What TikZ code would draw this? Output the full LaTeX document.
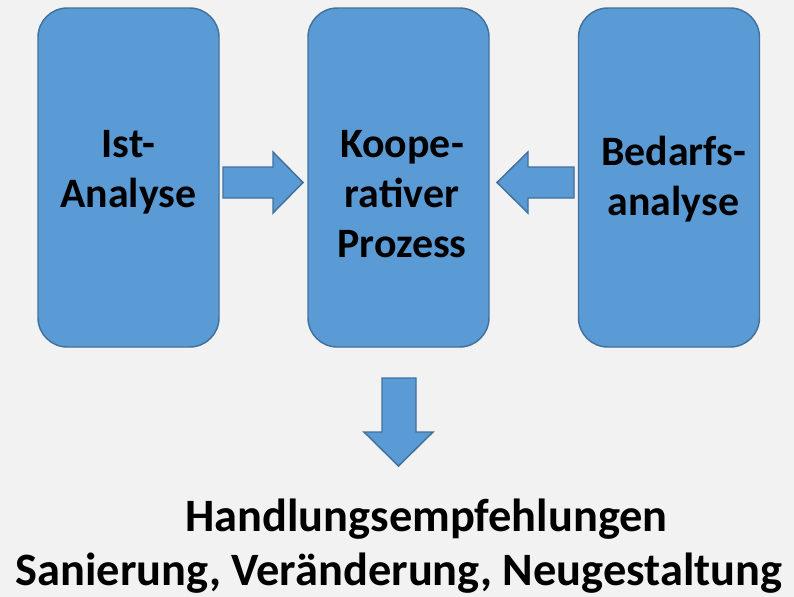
\documentclass[tikz,border=0pt]{standalone}
\usepackage{fontspec}
\setmainfont{Carlito}
\definecolor{bg}{HTML}{F2F2F2}
\definecolor{boxfill}{HTML}{5B9BD5}
\definecolor{boxline}{HTML}{41719C}
\tikzset{
  box/.style={draw=boxline, fill=boxfill, line width=1.1pt, rounded corners=22pt,
    minimum width=135.75pt, minimum height=254.25pt, inner sep=0pt},
  blockarrow/.style={draw=boxline, fill=boxfill, line width=1.1pt, line join=miter},
  lbl/.style={anchor=base, inner sep=0pt, font=\fontsize{31.4}{38}\selectfont\bfseries},
  bottomlbl/.style={anchor=base, inner sep=0pt, font=\fontsize{34.8}{42}\selectfont\bfseries}
}
\begin{document}
\begin{tikzpicture}[x=0.75pt,y=-0.75pt]
\useasboundingbox (0,0) rectangle (794,597);
\fill[bg] (0,0) rectangle (794,597);
% boxes
\node[box] (ist) at (128.5,177.5) {};
\node[box] (koop) at (398.5,177.5) {};
\node[box] (bed) at (669,177.5) {};
% box texts
\node[lbl] (ist1) at (128.5,157) {Ist-};
\node[lbl] (ist2) at (128.5,207) {Analyse};
\node[lbl] (koop1) at (402,157) {Koope-};
\node[lbl] (koop2) at (402,207) {rativer};
\node[lbl] (koop3) at (402,257) {Prozess};
\node[lbl] (bed1) at (673.5,165) {Bedarfs-};
\node[lbl] (bed2) at (673.5,215) {analyse};
% block arrows
\draw[blockarrow] (223,167) -- (273,167) -- (273,152) -- (303,182.5) -- (273,213) -- (273,198) -- (223,198) -- cycle;
\draw[blockarrow] (574,167) -- (528,167) -- (528,152) -- (497,182.5) -- (528,213) -- (528,198) -- (574,198) -- cycle;
\draw[blockarrow] (382,378) -- (416,378) -- (416,432) -- (433,432) -- (398.5,466) -- (364,432) -- (382,432) -- cycle;
% bottom texts
\node[bottomlbl] (hand) at (426.5,531) {Handlungsempfehlungen};
\node[bottomlbl] (san) at (399,585) {Sanierung, Veränderung, Neugestaltung};
\end{tikzpicture}
\end{document}
